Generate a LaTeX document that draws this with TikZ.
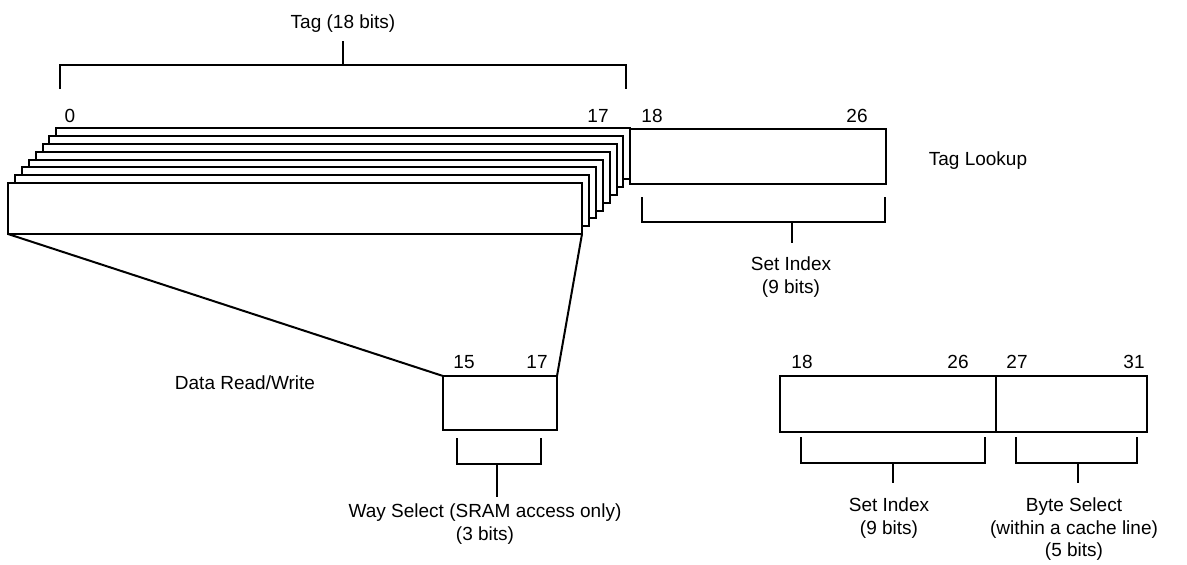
\documentclass[tikz,border=0pt]{standalone}
\usepackage{fontspec}
\setmainfont{Liberation Sans}
\begin{document}
\begin{tikzpicture}[x=1pt, y=-1pt, line width=2pt,
  field/.style={draw, fill=white, inner sep=0pt, outer sep=0pt, anchor=north west},
  lbl/.style={inner sep=0pt, anchor=base, font=\fontsize{19}{23}\selectfont},
  note/.style={inner sep=0pt, anchor=north, align=center, font=\fontsize{19}{22.5}\selectfont}]
\useasboundingbox (0,0) rectangle (1187,565);
\foreach \i in {7,6,...,0}
  \node[field, minimum width=574pt, minimum height=51pt] (way\i) at ({8+6.9*\i},{183-7.8*\i}) {};
\node[field, minimum width=256pt, minimum height=55pt] (tagfield) at (630,129) {};
\node[field, minimum width=114pt, minimum height=54pt] (wayfield) at (443,376) {};
\node[field, minimum width=216pt, minimum height=56pt] (indexfield) at (780,376) {};
\node[field, minimum width=151pt, minimum height=56pt] (bytefield) at (996,376) {};
\draw (way0.south west) -- (wayfield.north west);
\draw (way0.south east) -- (wayfield.north east);
\draw (60,89) |- (626,65) -- (626,89);
\draw (343,65) -- (343,41);
\draw (642,197) |- (885,222) -- (885,197);
\draw (792,222) -- (792,243);
\draw (457,438) |- (541,464) -- (541,438);
\draw (497,464) -- (497,497);
\draw (801,437) |- (985,463) -- (985,437);
\draw (893,463) -- (893,483);
\draw (1016,437) |- (1137,463) -- (1137,437);
\draw (1078,463) -- (1078,483);
\node[lbl] (tagbits) at (343,28) {Tag (18 bits)};
\node[lbl] (bit0) at (70,122) {0};
\node[lbl] (bit17) at (598,122) {17};
\node[lbl] (bit18) at (652,122) {18};
\node[lbl] (bit26) at (857,122) {26};
\node[lbl] (lookup) at (978,165) {Tag Lookup};
\node[note] (tagindex) at (791,256) {Set Index\\(9 bits)};
\node[lbl] (way15) at (464,368) {15};
\node[lbl] (way17) at (537,368) {17};
\node[lbl] (readwrite) at (245,389) {Data Read/Write};
\node[note] (wayselect) at (485,503) {Way Select (SRAM access only)\\(3 bits)};
\node[lbl] (addr18) at (802,368) {18};
\node[lbl] (addr26) at (958,368) {26};
\node[lbl] (addr27) at (1017,368) {27};
\node[lbl] (addr31) at (1134,368) {31};
\node[note] (setindex) at (889,497) {Set Index\\(9 bits)};
\node[note] (byteselect) at (1074,497) {Byte Select\\(within a cache line)\\(5 bits)};
\end{tikzpicture}
\end{document}
